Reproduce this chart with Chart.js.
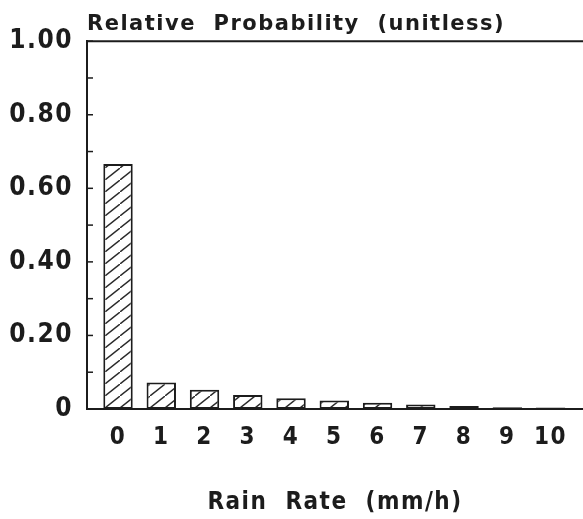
<!DOCTYPE html>
<html>
<head>
<meta charset="utf-8">
<script src="https://cdn.jsdelivr.net/npm/chart.js@4/dist/chart.umd.min.js"></script>
<style>
  html, body { margin: 0; padding: 0; background: #fff; }
  #chart { display: block; }
</style>
</head>
<body>
<canvas id="chart" width="583" height="519"></canvas>
<script>
// Rain rate histogram data
const rainRates = [0, 1, 2, 3, 4, 5, 6, 7, 8, 9, 10];
const probabilities = [0.666, 0.072, 0.052, 0.038, 0.029, 0.023, 0.017, 0.012, 0.008, 0.005, 0.004];
const yTicks = [0, 0.1, 0.2, 0.3, 0.4, 0.5, 0.6, 0.7, 0.8, 0.9, 1.0];
const yLabelled = [0, 0.2, 0.4, 0.6, 0.8, 1.0];

const ink = '#1c1c1c';
const wide = 'DejaVu Sans';
const narrow = '"DejaVu Sans Condensed", "DejaVu Sans"';

// diagonal hatch fill for the bars
function makeHatch() {
  const c = document.createElement('canvas');
  c.width = 15;
  c.height = 12;
  const g = c.getContext('2d');
  g.fillStyle = '#fff';
  g.fillRect(0, 0, 15, 12);
  g.strokeStyle = '#2a2a2a';
  g.lineWidth = 1.4;
  g.beginPath();
  g.moveTo(-1, 12.8);
  g.lineTo(16, -0.8);
  g.stroke();
  return g.createPattern(c, 'repeat');
}

// wider lettering, plus top frame line and short inward ticks on the y axis
const frame = {
  id: 'frame',
  beforeDraw(chart) {
    chart.ctx.letterSpacing = '1.5px';
  },
  afterDatasetsDraw(chart) {
    const { ctx, chartArea } = chart;
    const y = chart.scales.y;
    ctx.save();
    ctx.strokeStyle = ink;
    ctx.lineWidth = 2;
    ctx.beginPath();
    ctx.moveTo(chartArea.left - 1, chartArea.top);
    ctx.lineTo(chartArea.right, chartArea.top);
    ctx.stroke();
    ctx.lineWidth = 1.5;
    yTicks.forEach(v => {
      const py = y.getPixelForValue(v);
      ctx.beginPath();
      ctx.moveTo(chartArea.left, py);
      ctx.lineTo(chartArea.left + 6, py);
      ctx.stroke();
    });
    ctx.restore();
  }
};

new Chart(document.getElementById('chart'), {
  type: 'bar',
  data: {
    datasets: [{
      data: rainRates.map((r, i) => ({ x: r, y: probabilities[i] })),
      backgroundColor: makeHatch(),
      borderColor: ink,
      borderWidth: 2,
      borderSkipped: false,
      barPercentage: 0.68,
      categoryPercentage: 1
    }]
  },
  options: {
    responsive: false,
    animation: false,
    layout: { padding: 0 },
    plugins: {
      legend: { display: false },
      tooltip: { enabled: false },
      title: {
        display: true,
        text: 'Relative  Probability  (unitless)',
        align: 'start',
        fullSize: false,
        color: ink,
        font: { family: wide, size: 21, weight: 'bold' },
        padding: { top: 12, bottom: 4 }
      }
    },
    scales: {
      x: {
        type: 'linear',
        offset: false,
        min: -0.717,
        max: 10.75,
        afterFit: s => { s.height = 110; },
        afterBuildTicks: s => { s.ticks = rainRates.map(v => ({ value: v })); },
        grid: { display: false, drawTicks: false, offset: false },
        border: { display: true, color: ink, width: 2 },
        ticks: {
          color: ink,
          padding: 14,
          font: { family: narrow, size: 24, weight: 'bold' },
          callback: v => String(v)
        },
        title: {
          display: true,
          text: 'Rain  Rate  (mm/h)',
          color: ink,
          font: { family: narrow, size: 24, weight: 'bold' },
          padding: { top: 10, bottom: 2 }
        }
      },
      y: {
        min: 0,
        max: 1,
        afterFit: s => { s.width = 87; },
        afterBuildTicks: s => { s.ticks = yTicks.map(v => ({ value: v })); },
        grid: { display: false, drawTicks: false },
        border: { display: true, color: ink, width: 2 },
        ticks: {
          color: ink,
          padding: 14,
          autoSkip: false,
          font: { family: narrow, size: 26, weight: 'bold' },
          callback: v => {
            if (!yLabelled.some(l => Math.abs(l - v) < 1e-6)) return '';
            return v === 0 ? '0' : v.toFixed(2);
          }
        }
      }
    }
  },
  plugins: [frame]
});
</script>
</body>
</html>
